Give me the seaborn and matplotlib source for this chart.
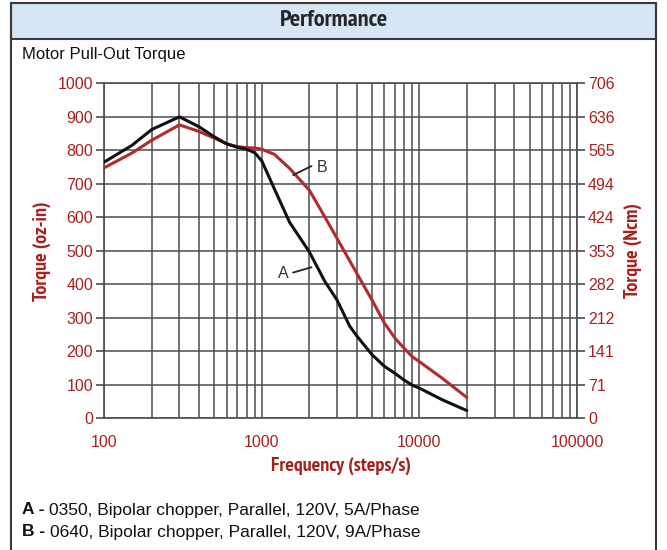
import matplotlib
matplotlib.use('Agg')
import matplotlib.pyplot as plt
import matplotlib.ticker as mticker
from matplotlib import font_manager
from matplotlib.patches import Rectangle
from matplotlib.lines import Line2D
import seaborn as sns
import pandas as pd

# ==========================================
# DATA
# ==========================================

freq_a = [100, 150, 200, 300, 400, 500, 600, 700, 800, 900, 1000, 1200, 1500,
          2000, 2500, 3000, 3600, 4000, 5000, 6000, 7000, 8000, 9000, 10000, 14000, 20000]
torque_a = [765, 815, 862, 900, 870, 840, 819, 809, 803, 793, 768, 685, 585,
            497, 410, 353, 276, 246, 190, 155, 134, 114, 99, 90, 55, 23]

freq_b = [100, 150, 200, 300, 400, 500, 600, 700, 800, 900, 1000, 1200, 1500,
          2000, 2300, 3000, 4000, 5000, 6000, 7000, 8000, 9000, 10000, 14000, 20000]
torque_b = [748, 792, 830, 876, 856, 836, 819, 811, 808, 807, 803, 788, 746,
            681, 632, 537, 433, 353, 284, 239, 209, 184, 169, 119, 62]

ozin_ticks = [0, 100, 200, 300, 400, 500, 600, 700, 800, 900, 1000]
ncm_labels = ['0', '71', '141', '212', '282', '353', '424', '494', '565', '636', '706']
freq_ticks = [100, 1000, 10000, 100000]

legend_a = ('A - ', '0350, Bipolar chopper, Parallel, 120V, 5A/Phase')
legend_b = ('B - ', '0640, Bipolar chopper, Parallel, 120V, 9A/Phase')

# ==========================================
# STYLE
# ==========================================

RED = '#a8201c'
CURVE_RED = '#b22a2a'
GRID = '#4d4d4d'
HEADER_BG = '#d6e6f4'

W, H = 667, 550

sns.set_style('white')

# only fonts that ship a real bold face (variable fonts render too thin here)
bold_faces = {f.name for f in font_manager.fontManager.ttflist
              if f.weight in (700, 'bold') and '[' not in f.fname}


def pick_bold(*names):
    return [n for n in names if n in bold_faces] + ['Liberation Sans', 'DejaVu Sans']


NARROW = pick_bold('PT Sans Narrow', 'Fira Sans Condensed', 'IBM Plex Sans Condensed',
                   'Barlow Semi Condensed', 'Liberation Sans Narrow')
BODY = ['Liberation Sans', 'DejaVu Sans']
plt.rcParams['font.family'] = BODY


def px_x(x):
    return x / W


def px_y(y):
    return 1 - y / H


def draw_frame(fig):
    # outer box + blue header band
    fig.patches.append(Rectangle((px_x(11), px_y(39)), px_x(645), 36 / H,
                                 transform=fig.transFigure, facecolor=HEADER_BG,
                                 edgecolor='#3a3a3a', lw=1.5, zorder=0))
    for xs, ys in [([11, 11], [3, 552]), ([656, 656], [3, 552])]:
        fig.lines.append(Line2D([px_x(v) for v in xs], [px_y(v) for v in ys],
                                transform=fig.transFigure, color='#3a3a3a', lw=1.5))
    fig.text(0.5, px_y(20), 'Performance', ha='center', va='center',
             fontsize=17.5, fontweight='bold', family=NARROW)
    fig.text(px_x(22), px_y(55), 'Motor Pull-Out Torque', ha='left', va='center',
             fontsize=12, color='#111111')


def draw_legend_text(fig):
    for (key, desc), y in [(legend_a, 510), (legend_b, 532)]:
        t = fig.text(px_x(22), px_y(y), key, ha='left', va='center',
                     fontsize=12.5, fontweight='bold', color='#111111')
        fig.canvas.draw()
        bb = t.get_window_extent()
        fig.text(bb.x1 / fig.dpi / fig.get_figwidth(), px_y(y), desc, ha='left',
                 va='center', fontsize=12.5, color='#111111')


def plot_torque():
    fig = plt.figure(figsize=(W / 100, H / 100), dpi=100)
    ax = fig.add_axes([px_x(104.3), px_y(418.3), (577 - 104.3) / W, 335 / H])

    df_a = pd.DataFrame({'freq': freq_a, 'torque': torque_a})
    df_b = pd.DataFrame({'freq': freq_b, 'torque': torque_b})
    sns.lineplot(data=df_b, x='freq', y='torque', ax=ax, color=CURVE_RED, lw=2.2, zorder=3)
    sns.lineplot(data=df_a, x='freq', y='torque', ax=ax, color='#111111', lw=2.2, zorder=4)

    ax.set_xscale('log')
    ax.set_xlim(freq_ticks[0], freq_ticks[-1])
    ax.set_ylim(ozin_ticks[0], ozin_ticks[-1])
    ax.xaxis.set_major_locator(mticker.FixedLocator(freq_ticks))
    ax.xaxis.set_minor_locator(mticker.LogLocator(base=10, subs=range(2, 10)))
    ax.xaxis.set_major_formatter(mticker.FixedFormatter([str(v) for v in freq_ticks]))
    ax.xaxis.set_minor_formatter(mticker.NullFormatter())
    ax.set_yticks(ozin_ticks)

    ax.grid(True, which='both', axis='x', color=GRID, lw=1.1)
    ax.grid(True, which='major', axis='y', color=GRID, lw=1.1)
    ax.tick_params(axis='both', which='major', direction='out', length=6, width=1.2,
                   color=GRID, labelcolor=RED, labelsize=11.5, pad=2)
    ax.tick_params(axis='x', which='minor', length=0)
    ax.tick_params(axis='x', which='major', pad=6)
    for s in ax.spines.values():
        s.set_color(GRID)
        s.set_linewidth(1.2)

    ax.set_xlabel('Frequency (steps/s)', color=RED, fontsize=14.5, fontweight='bold',
                  family=NARROW, labelpad=5)
    ax.set_ylabel('Torque (oz-in)', color=RED, fontsize=14.5, fontweight='bold',
                  family=NARROW, labelpad=5)

    # right axis in Ncm
    ax2 = ax.twinx()
    ax2.set_ylim(ax.get_ylim())
    ax2.set_yticks(ozin_ticks)
    ax2.set_yticklabels(ncm_labels)
    ax2.tick_params(axis='y', direction='out', length=6, width=1.2, color=GRID,
                    labelcolor=RED, labelsize=11.5, pad=2)
    for s in ax2.spines.values():
        s.set_visible(False)
    ax2.set_ylabel('Torque (Ncm)', color=RED, fontsize=14.5, fontweight='bold',
                   family=NARROW, labelpad=6)

    # curve labels with short leader lines
    ax.annotate('', xy=(1578, 726), xytext=(2066, 753),
                arrowprops=dict(arrowstyle='-', color='#222222', lw=1.3, shrinkA=0, shrinkB=0))
    ax.text(2427, 749, 'B', ha='center', va='center', fontsize=11.5, color='#333333')
    ax.annotate('', xy=(2066, 451), xytext=(1578, 435),
                arrowprops=dict(arrowstyle='-', color='#222222', lw=1.3, shrinkA=0, shrinkB=0))
    ax.text(1365, 431, 'A', ha='center', va='center', fontsize=11.5, color='#333333')

    draw_frame(fig)
    draw_legend_text(fig)

    fig.savefig('out.png', dpi=100)
    plt.close(fig)


def main():
    plot_torque()


if __name__ == '__main__':
    main()
